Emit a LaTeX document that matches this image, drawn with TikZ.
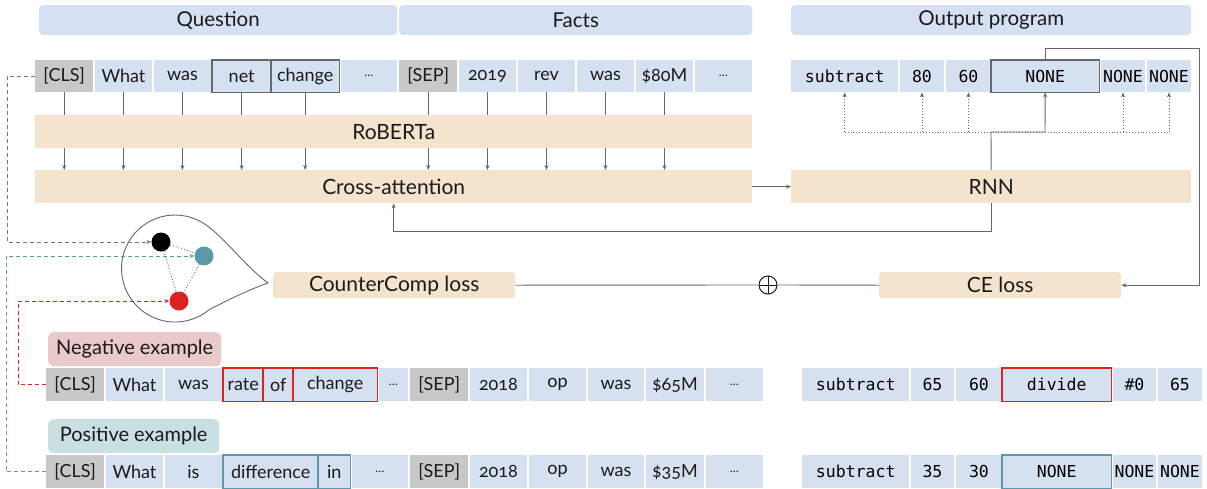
\documentclass[tikz,border=0pt]{standalone}
\usepackage{fontspec}
\setmainfont{Lato}[Numbers=OldStyle]
\setmonofont{DejaVu Sans Mono}
\usetikzlibrary{arrows.meta}
\definecolor{cellblue}{HTML}{D5E1F1}
\definecolor{hdrblue}{HTML}{D5E1F2}
\definecolor{cellgray}{HTML}{C8C8C8}
\definecolor{beige}{HTML}{F4E3CD}
\definecolor{negpink}{HTML}{EAC9C9}
\definecolor{posteal}{HTML}{C9DFE1}
\definecolor{tealc}{HTML}{5A9AA8}
\definecolor{redc}{HTML}{DD2222}
\definecolor{linec}{HTML}{666666}
\definecolor{txt}{HTML}{1A1A1A}
\newcommand\mkcell[5]{\pgfmathsetmacro\cw{#4-#3}\node[#1, minimum width=\cw pt, minimum height=\rh pt] (#2) at (#3,\rt) {#5};}
\newcommand\smdots{{\fontsize{12}{12}\selectfont …}}
\tikzset{
  cell/.style={fill=cellblue, inner sep=0pt, anchor=north west, text=txt, font=\fontsize{18}{18}\selectfont},
  gcell/.style={cell, fill=cellgray},
  mcell/.style={cell, text=black, font=\ttfamily\fontsize{16.5}{16.5}\selectfont},
  bar/.style={fill=beige, inner sep=0pt, anchor=north west, text=txt, font=\fontsize{21}{21}\selectfont},
  hdr/.style={fill=hdrblue, rounded corners=4pt, inner sep=0pt, anchor=north west, text=txt, font=\fontsize{20.5}{20.5}\selectfont},
  lab/.style={rounded corners=5pt, inner sep=0pt, anchor=north west, text=txt, font=\fontsize{20}{20}\selectfont},
  gout/.style={draw=linec, line width=1.2pt},
  rout/.style={draw=redc, line width=1.2pt},
  tout/.style={draw=tealc, line width=1.2pt},
  conn/.style={draw=linec, line width=0.9pt},
  arr/.style={conn, -{Stealth[length=5pt,width=4pt]}},
  darr/.style={draw=linec, line width=0.9pt, dotted, -{Stealth[length=5pt,width=4pt]}},
  dsh/.style={line width=0.9pt, dash pattern=on 4pt off 3pt, -{Stealth[length=5pt,width=4pt]}},
  dot/.style={circle, inner sep=0pt, minimum size=19pt},
}
\begin{document}
\begin{tikzpicture}[x=1pt,y=-1pt]
\useasboundingbox (0,0) rectangle (1207,488);
% headers
\def\rt{5}\def\rh{30}
\mkcell{hdr}{hq}{39}{397}{Question}
\mkcell{hdr}{hf}{399}{752}{Facts}
\mkcell{hdr}{ho}{791}{1191}{Output program}
% row 1
\def\rt{60}\def\rh{32}
\mkcell{gcell}{qcls}{35}{93}{[CLS]}
\mkcell{cell}{qwhat}{94.5}{152}{What}
\mkcell{cell}{qwas}{153.5}{211}{was}
\mkcell{cell}{qnet}{212}{271}{net}
\mkcell{cell}{qchange}{271}{339}{change}
\mkcell{cell}{qdots}{340.5}{397}{\smdots}
\mkcell{gcell}{fsep}{399}{457}{[SEP]}
\mkcell{cell}{fyr}{458.5}{516}{2019}
\mkcell{cell}{frev}{517.5}{575}{rev}
\mkcell{cell}{fwas}{576.5}{634}{was}
\mkcell{cell}{fval}{635.5}{693}{\$80M}
\mkcell{cell}{fdots}{694.5}{752}{\smdots}
\draw[gout] (qnet.north west) rectangle (qnet.south east) (qchange.north west) rectangle (qchange.south east);
\mkcell{mcell}{oa}{791}{898}{subtract}
\mkcell{mcell}{ob}{899.5}{944}{80}
\mkcell{mcell}{oc}{945.5}{991}{60}
\mkcell{mcell}{od}{991}{1099}{NONE}
\mkcell{mcell}{oe}{1100.5}{1145}{NONE}
\mkcell{mcell}{of}{1146.5}{1191}{NONE}
\draw[gout] (od.north west) rectangle (od.south east);
% bars
\def\rt{115}\def\rh{33}
\mkcell{bar}{rob}{35}{752}{RoBERTa}
\def\rt{170}
\mkcell{bar}{ca}{35}{752}{Cross-attention}
\mkcell{bar}{rnn}{791}{1191}{RNN}
\def\rt{272}\def\rh{26}
\mkcell{bar,rounded corners=3pt}{ccl}{273}{515}{CounterComp loss}
\mkcell{bar,rounded corners=3pt}{ce}{879}{1121}{CE loss}
% token connectors
\foreach \n in {qcls,qwhat,qwas,qnet,qchange,fsep,fyr,frev,fwas,fval}{
  \draw[conn] (\n.south) -- (\n.south |- rob.north);
  \draw[arr] (\n.south |- rob.south) -- (\n.south |- ca.north);
}
\draw[arr] (ca.east) -- (rnn.west);
\coordinate (hub) at (991,132);
\coordinate (hubr) at (1045,132);
\draw[arr] (rnn.north) -- (hub) -- (hubr) -- (od.south);
\draw[draw=linec, line width=0.9pt, dotted] (oa.south |- hub) -- (of.south |- hub);
\foreach \n in {oa,ob,oc,oe,of}{
  \draw[darr] (\n.south |- hub) -- (\n.south);
}
\coordinate (topr) at (1199,48);
\draw[arr] (od.north) |- (topr) |- (ce.east);
\draw[arr] (rnn.south) -- ++(0,28) -| (ca.south);
% loss combination
\node[circle, draw=txt, line width=1pt, minimum size=18pt, inner sep=0pt,
  path picture={\draw[txt, line width=1pt] (path picture bounding box.north) -- (path picture bounding box.south) (path picture bounding box.west) -- (path picture bounding box.east);}] (plus) at (768,285) {};
\draw[conn] (ccl.east) -- (plus.west);
\draw[conn] (plus.east) -- (ce.west);
% bubble
\coordinate (apex) at (268,283);
\draw[linec, line width=0.9pt] (205.7,224.7) arc[start angle=-55, end angle=-310, radius=53.5]
  .. controls (228,300) and (248,290) .. (apex)
  .. controls (245,266) and (225,238) .. (205.7,224.7);
\node[dot, fill=black] (blk) at (161,242) {};
\node[dot, fill=tealc] (tl) at (204,256) {};
\node[dot, fill=redc] (rd) at (179,301) {};
\draw[linec, line width=0.9pt, dotted] (blk) -- (tl) (blk) -- (rd) (tl) -- (rd);
% labels
\def\rt{332}\def\rh{34}
\mkcell{lab,fill=negpink}{neglab}{48}{221}{Negative example}
\def\rt{419}
\mkcell{lab,fill=posteal}{poslab}{48}{219}{Positive example}
% negative row
\def\rt{368}\def\rh{33}
\mkcell{gcell}{ncls}{46}{104}{[CLS]}
\mkcell{cell}{nwhat}{105.5}{163}{What}
\mkcell{cell}{nwas}{164.5}{222}{was}
\mkcell{cell}{nrate}{223}{263}{rate}
\mkcell{cell}{nof}{263}{293}{of}
\mkcell{cell}{nchange}{293}{377}{change}
\mkcell{cell}{ndots}{378.5}{408}{\smdots}
\mkcell{gcell}{nsep}{410}{468}{[SEP]}
\mkcell{cell}{nyr}{469.5}{527}{2018}
\mkcell{cell}{nop}{528.5}{586}{op}
\mkcell{cell}{nwas2}{587.5}{644}{was}
\mkcell{cell}{nval}{645.5}{704}{\$65M}
\mkcell{cell}{ndots2}{705.5}{763}{\smdots}
\draw[rout] (nrate.north west) rectangle (nrate.south east) (nof.north west) rectangle (nof.south east) (nchange.north west) rectangle (nchange.south east);
\mkcell{mcell}{na}{802}{909}{subtract}
\mkcell{mcell}{nb}{910.5}{954}{65}
\mkcell{mcell}{nc}{955.5}{1002}{60}
\mkcell{mcell}{nd}{1002}{1111}{divide}
\mkcell{mcell}{ne}{1112.5}{1156}{\#0}
\mkcell{mcell}{nf}{1157.5}{1202}{65}
\draw[rout] (nd.north west) rectangle (nd.south east);
% positive row
\def\rt{455}\def\rh{33}
\mkcell{gcell}{pcls}{46}{104}{[CLS]}
\mkcell{cell}{pwhat}{105.5}{163}{What}
\mkcell{cell}{pis}{164.5}{222}{is}
\mkcell{cell}{pdiff}{223}{318}{difference}
\mkcell{cell}{pin}{318}{350}{in}
\mkcell{cell}{pdots}{351.5}{408}{\smdots}
\mkcell{gcell}{psep}{410}{468}{[SEP]}
\mkcell{cell}{pyr}{469.5}{527}{2018}
\mkcell{cell}{pop}{528.5}{586}{op}
\mkcell{cell}{pwas2}{587.5}{644}{was}
\mkcell{cell}{pval}{645.5}{704}{\$35M}
\mkcell{cell}{pdots2}{705.5}{763}{\smdots}
\draw[tout] (pdiff.north west) rectangle (pdiff.south east) (pin.north west) rectangle (pin.south east);
\mkcell{mcell}{pa}{802}{909}{subtract}
\mkcell{mcell}{pb}{910.5}{954}{35}
\mkcell{mcell}{pc}{955.5}{1002}{30}
\mkcell{mcell}{pd}{1002}{1111}{NONE}
\mkcell{mcell}{pe}{1112.5}{1156}{NONE}
\mkcell{mcell}{pf}{1157.5}{1202}{NONE}
\draw[tout] (pd.north west) rectangle (pd.south east);
% dashed links
\draw[dsh, draw=linec!90] (qcls.west) -- ++(-28,0) |- (blk.west);
\draw[dsh, draw=tealc] (pcls.west) -- ++(-40,0) |- (tl.west);
\draw[dsh, draw=redc] (ncls.west) -- ++(-28,0) |- (rd.west);
\end{tikzpicture}
\end{document}
